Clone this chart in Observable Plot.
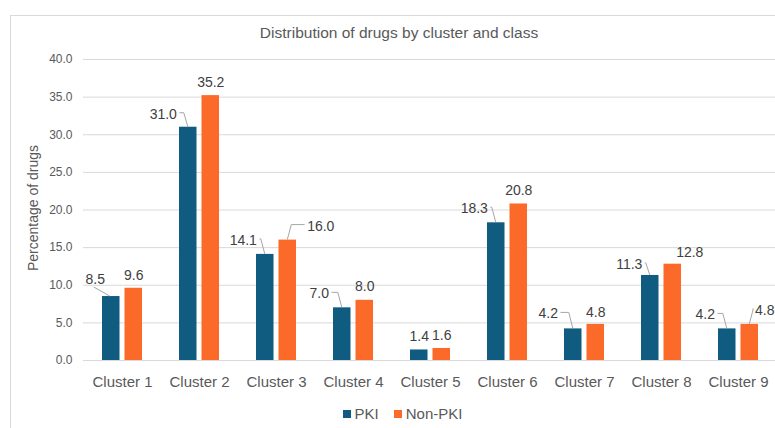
<!DOCTYPE html>
<html>
<head>
<meta charset="utf-8">
<script src="https://cdn.jsdelivr.net/npm/d3@7"></script>
<script src="https://cdn.jsdelivr.net/npm/@observablehq/plot@0.6"></script>
<style>
  html, body { margin: 0; padding: 0; background: #fff; }
  #wrap { position: relative; width: 775px; height: 428px; overflow: hidden; font-family: "Liberation Sans", Arial, sans-serif; }
  #frame { position: absolute; left: 10px; top: 15px; width: 800px; height: 440px; border: 1px solid #d9d9d9; box-sizing: border-box; }
  #title { position: absolute; left: 0; top: 23px; width: 798px; text-align: center; font-family: "Liberation Sans Narrow", "Liberation Sans", Arial, sans-serif; font-size: 15.5px; line-height: 20px; color: #595959; }
  #chart { position: absolute; left: 0; top: 40px; }
  #ylabel { position: absolute; left: 33px; top: 208px; transform: translate(-50%, -50%) rotate(-90deg); white-space: nowrap; font-size: 14px; color: #595959; }
  #legend { position: absolute; left: 9px; top: 397px; width: 802px; display: flex; justify-content: center; }
  #legend div, #legend span { font-size: 15px !important; color: #595959; font-family: "Liberation Sans", Arial, sans-serif; }
  #legend svg { margin-right: 4px !important; }
</style>
</head>
<body>
<div id="wrap">
  <div id="frame"></div>
  <div id="title">Distribution of drugs by cluster and class</div>
  <div id="chart"></div>
  <div id="ylabel">Percentage of drugs</div>
  <div id="legend"></div>
</div>
<script>
// ---- data ----
const clusters = ["Cluster 1", "Cluster 2", "Cluster 3", "Cluster 4", "Cluster 5", "Cluster 6", "Cluster 7", "Cluster 8", "Cluster 9"];
const pkiValues = [8.5, 31.0, 14.1, 7.0, 1.4, 18.3, 4.2, 11.3, 4.2];
const nonPkiValues = [9.6, 35.2, 16.0, 8.0, 1.6, 20.8, 4.8, 12.8, 4.8];
const classes = ["PKI", "Non-PKI"];
const yTicks = [0, 5, 10, 15, 20, 25, 30, 35, 40];

// ---- styling / label layout (pixel nudges, not data) ----
const colors = ["#0f5c80", "#fb6a28"];
const pkiNudge = [[-16, -17, "slant"], [-25, -13, "elbow"], [-22, -14, "elbow"], [-23, -14, "elbow"], [0, -13, "none"], [-22, -14, "elbow"], [-25, -15, "elbow"], [-21, -11, "elbow"], [-22, -14, "elbow"]];
const nonNudge = [[0, -13, "none"], [0, -13, "none"], [33, -14, "elbow"], [0, -14, "none"], [0, -13, "none"], [0, -13, "none"], [0, -12, "none"], [17, -12, "none"], [15, -14, "elbow"]];

const rows = clusters.flatMap((c, i) => [
  {cluster: c, cls: "PKI", value: pkiValues[i], i},
  {cluster: c, cls: "Non-PKI", value: nonPkiValues[i], i}
]);

const xRange = [83, 776.5];
const padInner = 0.48;
const step = (xRange[1] - xRange[0]) / clusters.length;
const bw = step * (1 - padInner);
const inset = 22.5;
const barW = bw - inset;
const centerOff = bw / 2 - barW / 2;
const fmt = d3.format(".1f");
const labelFont = "14px 'Liberation Sans', Arial, sans-serif";

const textMarks = rows.map(r => {
  const nd = r.cls === "PKI" ? pkiNudge[r.i] : nonNudge[r.i];
  const off = r.cls === "PKI" ? -centerOff : centerOff;
  return Plot.text([r], {
    x: "cluster", y: "value", text: d => fmt(d.value),
    dx: off + nd[0], dy: nd[1],
    fill: "#404040", fontSize: 14
  });
});

const plot = Plot.plot({
  width: 775,
  height: 360,
  marginLeft: 83,
  marginRight: 0,
  marginTop: 19,
  marginBottom: 40,
  style: {fontFamily: "'Liberation Sans', Arial, sans-serif", color: "#595959", background: "transparent"},
  x: {domain: clusters, range: xRange, paddingInner: padInner, paddingOuter: padInner / 2, label: null},
  y: {domain: [0, 40], label: null},
  color: {domain: classes, range: colors},
  marks: [
    Plot.gridY(yTicks, {stroke: "#d9d9d9", strokeOpacity: 1, strokeWidth: 1}),
    Plot.axisY(yTicks, {tickSize: 0, tickPadding: 11, tickFormat: d3.format(".1f"), fontSize: 12, fill: "#595959", label: null}),
    Plot.axisX({tickSize: 0, tickPadding: 16, fontSize: 15, fill: "#595959", label: null}),
    Plot.barY(rows.filter(d => d.cls === "PKI"), {x: "cluster", y: "value", fill: "cls", insetRight: inset}),
    Plot.barY(rows.filter(d => d.cls === "Non-PKI"), {x: "cluster", y: "value", fill: "cls", insetLeft: inset}),
    ...textMarks
  ]
});

document.getElementById("chart").appendChild(plot);

// ---- leader lines, positioned through the plot's scales ----
const sx = plot.scale("x"), sy = plot.scale("y");
const ctx = document.createElement("canvas").getContext("2d");
ctx.font = labelFont;
const svg = d3.select(plot);
const g = svg.append("g").attr("fill", "none").attr("stroke", "#a6a6a6").attr("stroke-width", 1);
rows.forEach(r => {
  const isP = r.cls === "PKI";
  const nd = isP ? pkiNudge[r.i] : nonNudge[r.i];
  if (nd[2] === "none") return;
  const bx = sx.apply(r.cluster) + (isP ? barW / 2 : bw - barW / 2);
  const by = sy.apply(r.value);
  const lx = bx + nd[0], ly = by + nd[1];
  const w = ctx.measureText(fmt(r.value)).width;
  let pts;
  if (nd[2] === "slant") {
    pts = [[lx - 1, ly + 8], [bx - 1, by]];
  } else if (isP) {
    pts = [[lx + w / 2 + 3, ly - 1], [bx - 4, ly - 1], [bx, by]];
  } else {
    pts = [[bx, by], [bx + 4, ly - 1], [lx - w / 2 - 2, ly - 1]];
  }
  g.append("path").attr("d", d3.line()(pts));
});

// ---- legend from the plot's color scale ----
const legend = plot.legend("color", {swatchSize: 8, swatchWidth: 8, swatchHeight: 8});
document.getElementById("legend").appendChild(legend);
</script>
</body>
</html>
